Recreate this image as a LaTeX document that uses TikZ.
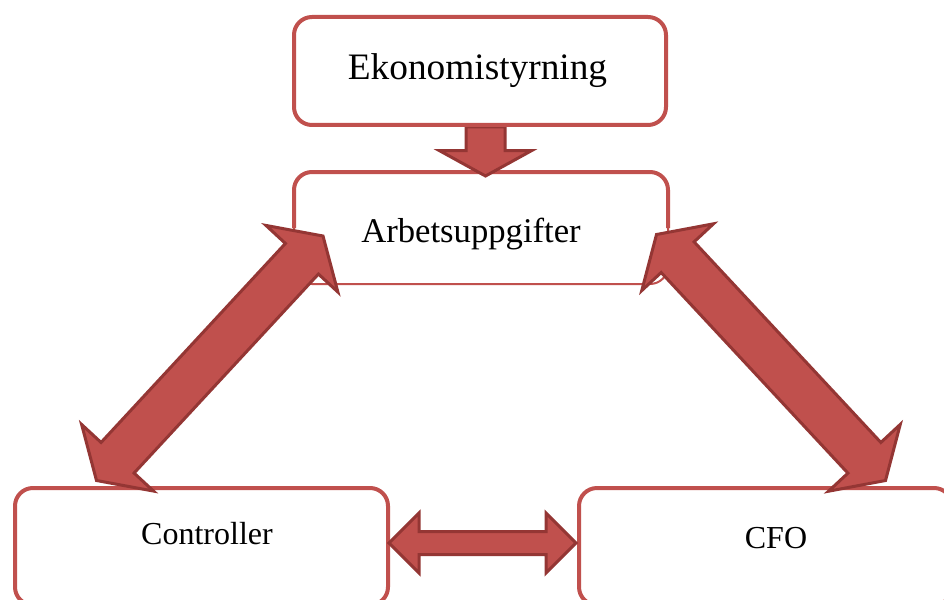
\documentclass[tikz,border=0pt]{standalone}
\usepackage{fontspec}
\setmainfont{Liberation Serif}
\usetikzlibrary{calc}
\definecolor{boxred}{HTML}{C0504D}
\definecolor{arrfill}{HTML}{C0504D}
\definecolor{arrdark}{HTML}{943634}
\tikzset{
  box/.style={draw=boxred, line width=3pt, fill=white, rounded corners=13.5pt, inner sep=0pt, outer sep=0pt},
  arrowst/.style={draw=arrdark, fill=arrfill, line width=2.25pt, line join=miter},
  bigtxt/.style={font=\fontsize{28}{30}\selectfont, anchor=base, inner sep=0pt},
  midtxt/.style={font=\fontsize{26}{28}\selectfont, anchor=base, inner sep=0pt},
  txt/.style={font=\fontsize{24}{26}\selectfont, anchor=base, inner sep=0pt},
}
\newcommand\myDblArrow[5]{%
  \path ($(#1)!#3!(#2)$) coordinate (hA) ($(#2)!#3!(#1)$) coordinate (hB);
  \draw[arrowst] (#1) -- ($(hA)!#4!90:(#2)$) -- ($(hA)!#5!90:(#2)$)
    -- ($(hB)!#5!-90:(#1)$) -- ($(hB)!#4!-90:(#1)$) -- (#2)
    -- ($(hB)!#4!90:(#1)$) -- ($(hB)!#5!90:(#1)$)
    -- ($(hA)!#5!-90:(#2)$) -- ($(hA)!#4!-90:(#2)$) -- cycle;}
\newcommand\mySglArrow[5]{%
  \path ($(#2)!#3!(#1)$) coordinate (hB);
  \draw[arrowst] ($(#1)!#5!-90:(#2)$) -- ($(hB)!#5!90:(#1)$) -- ($(hB)!#4!90:(#1)$)
    -- (#2) -- ($(hB)!#4!-90:(#1)$) -- ($(hB)!#5!-90:(#1)$)
    -- ($(#1)!#5!90:(#2)$) -- cycle;}
\begin{document}
\begin{tikzpicture}[x=0.75pt,y=-0.75pt]
\useasboundingbox (0,0) rectangle (944,599);
\clip (0,0) rectangle (944,599);
\fill[white] (0,0) rectangle (944,599);
% boxes
\node[box, line width=1.5pt, minimum width=280.5pt, minimum height=84pt] (arb) at (481,228) {};
\draw[draw=boxred, line width=3pt, rounded corners=13.5pt] (arb.west) -- (arb.north west) -- (arb.north east) -- (arb.east);
\node[box, minimum width=279.75pt, minimum height=87.75pt] (ctl) at (201.5,546.5) {};
\node[box, minimum width=279.75pt, minimum height=87.75pt] (cfo) at (765.5,546.5) {};
% down arrow
\coordinate (dA) at (485.5,127);
\coordinate (dB) at (485.5,176);
\mySglArrow{dA}{dB}{19pt}{34.5pt}{14.625pt}
\node[box, minimum width=279pt, minimum height=81pt] (eko) at (480,71) {};
% texts
\node[bigtxt] (tEko) at (477.5,80) {Ekonomistyrning};
\node[midtxt] (tArb) at (471,242) {Arbetsuppgifter};
\node[txt] (tCtl) at (207,544) {Controller};
\node[txt] (tCfo) at (776,548) {CFO};
% diagonal arrows
\coordinate (la1) at (323,236);
\coordinate (la2) at (96.5,480.5);
\myDblArrow{la1}{la2}{23.25pt}{36.75pt}{16.875pt}
\coordinate (ra1) at (656.5,234.5);
\coordinate (ra2) at (885.5,480.5);
\myDblArrow{ra1}{ra2}{23.25pt}{36.75pt}{16.875pt}
% horizontal arrow
\coordinate (ha1) at (389,543);
\coordinate (ha2) at (576,543);
\myDblArrow{ha1}{ha2}{22.5pt}{22.5pt}{8.625pt}
\end{tikzpicture}
\end{document}
